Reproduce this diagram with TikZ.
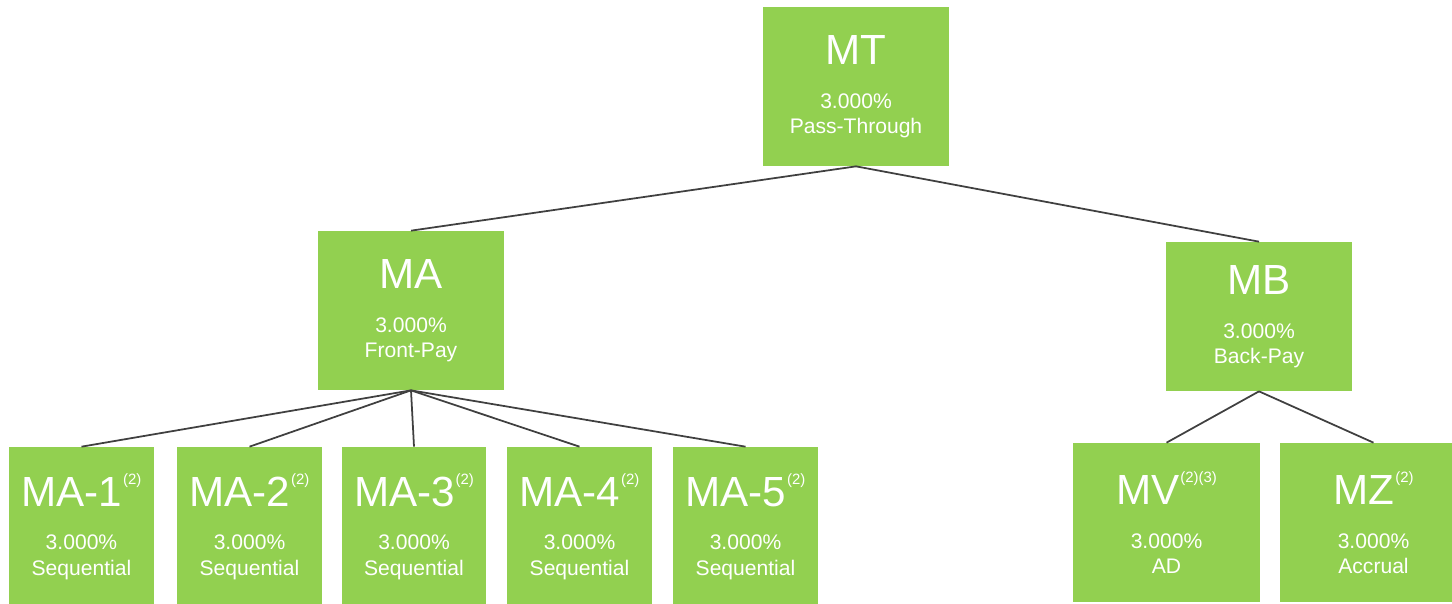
\documentclass[tikz,border=0pt]{standalone}
\usepackage{fontspec}
\setmainfont{Liberation Sans}
\definecolor{trgreen}{HTML}{92D050}
\definecolor{linkgray}{HTML}{404040}
\newcommand{\fnote}[1]{\hspace{0.5pt}\raisebox{12.5pt}{\fontsize{8.5}{8.5}\selectfont #1}}
\newcommand{\tname}[1]{{\fontsize{24}{24}\selectfont #1}\\[10.5pt]}
\tikzset{
  tranche/.style={fill=trgreen, text=white, inner sep=0pt, minimum width=3.72cm,
    minimum height=3.18cm, align=center, font=\fontsize{12}{14.5}\selectfont},
  link/.style={draw=linkgray, line width=1pt}
}
\begin{document}
\begin{tikzpicture}[x=0.02cm, y=-0.02cm]
  \useasboundingbox (0,0) rectangle (1452,603);
  \clip (0,0) rectangle (1452,603);
  % top level
  \node[tranche] (mt) at (856,86.5) {\tname{MT}3.000\%\\Pass-Through};
  \node[tranche] (ma) at (411,310.5) {\tname{MA}3.000\%\\Front-Pay};
  \node[tranche, minimum height=2.98cm] (mb) at (1259,316.5) {\tname{MB}3.000\%\\Back-Pay};
  \draw[link] (mt.south) -- (ma.north);
  \draw[link] (mt.south) -- (mb.north);
  % sequential classes
  \foreach \i/\x in {1/81.5, 2/249.5, 3/414, 4/579.5, 5/745.5}{
    \node[tranche, minimum width=2.9cm] (ma-\i) at (\x,526.5)
      {\tname{MA-\i\fnote{(2)}}3.000\%\\Sequential};
    \draw[link] (ma.south) -- (ma-\i.north);
  }
  % back-pay classes
  \node[tranche, minimum width=3.74cm] (mv) at (1166.5,522.5) {\tname{MV\fnote{(2)(3)}}3.000\%\\AD};
  \node[tranche, minimum width=3.74cm] (mz) at (1373.5,522.5) {\tname{MZ\fnote{(2)}}3.000\%\\Accrual};
  \draw[link] (mb.south) -- (mv.north);
  \draw[link] (mb.south) -- (mz.north);
\end{tikzpicture}
\end{document}
